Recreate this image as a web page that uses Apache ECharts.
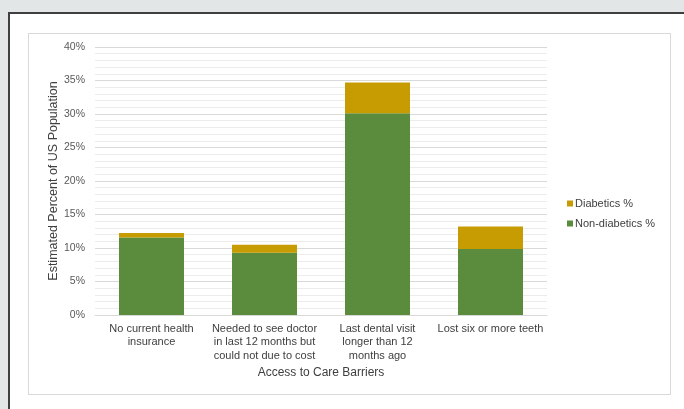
<!DOCTYPE html>
<html>
<head>
<meta charset="utf-8">
<script src="https://cdn.jsdelivr.net/npm/echarts@6/dist/echarts.min.js"></script>
<style>
  html, body { margin: 0; padding: 0; width: 684px; height: 409px; overflow: hidden; background: #e3e6e7; font-family: "Liberation Sans", Arial, sans-serif; }
  #panel { position: absolute; left: 8px; top: 12px; width: 700px; height: 420px; background: #ffffff; border-left: 2px solid #3f3f3f; border-top: 2px solid #3f3f3f; }
  #inner { position: absolute; left: 28px; top: 33px; width: 641px; height: 360px; border: 1px solid #d9d9d9; background: #ffffff; }
  #chart { position: absolute; left: 0; top: 0; width: 684px; height: 409px; }
</style>
</head>
<body>
<div id="panel"></div>
<div id="inner"></div>
<div id="chart"></div>
<script>
const categories = [
  "No current health\ninsurance",
  "Needed to see doctor\nin last 12 months but\ncould not due to cost",
  "Last dental visit\nlonger than 12\nmonths ago",
  "Lost six or more teeth"
];
const nonDiabeticsPct = [11.55, 9.3, 30.1, 9.85];
const diabeticsPct = [0.7, 1.2, 4.6, 3.35];
const seriesNames = ["Diabetics %", "Non-diabetics %"];

const chart = echarts.init(document.getElementById('chart'), null, { renderer: 'canvas' });
const font = '"Liberation Sans", Arial, sans-serif';
chart.setOption({
  backgroundColor: 'transparent',
  animation: false,
  textStyle: { fontFamily: font },
  grid: { left: 95, right: 137, top: 47, bottom: 94, containLabel: false },
  legend: {
    data: seriesNames,
    orient: 'vertical',
    left: 562,
    top: 193,
    itemWidth: 6,
    itemHeight: 6,
    itemGap: 9,
    icon: 'rect',
    textStyle: { fontSize: 11, color: '#404040', fontFamily: font, padding: [0, 0, 0, -3] }
  },
  xAxis: {
    type: 'category',
    data: categories,
    name: 'Access to Care Barriers',
    nameLocation: 'middle',
    nameGap: 52,
    nameMoveOverlap: false,
    nameTextStyle: { fontSize: 12, color: '#404040', fontFamily: font },
    axisLine: { show: true, lineStyle: { color: '#d9d9d9', width: 1 } },
    axisTick: { show: false },
    axisLabel: { interval: 0, fontSize: 11, color: '#404040', lineHeight: 13.5, margin: 7, fontFamily: font }
  },
  yAxis: {
    type: 'value',
    min: 0,
    max: 40,
    interval: 5,
    name: 'Estimated Percent of US Population',
    nameLocation: 'middle',
    nameGap: 35,
    nameMoveOverlap: false,
    nameTextStyle: { fontSize: 12.5, color: '#404040', fontFamily: font },
    axisLine: { show: false },
    axisTick: { show: false },
    axisLabel: { formatter: '{value}%', fontSize: 10.5, color: '#595959', margin: 10, fontFamily: font },
    splitLine: { show: true, lineStyle: { color: '#d9d9d9', width: 1 } },
    minorTick: { show: false, splitNumber: 5 },
    minorSplitLine: { show: true, lineStyle: { color: '#ececec', width: 1 } }
  },
  series: [
    {
      name: 'Non-diabetics %',
      type: 'bar',
      stack: 'total',
      data: nonDiabeticsPct,
      barWidth: 65,
      itemStyle: { color: '#5b8b3c' }
    },
    {
      name: 'Diabetics %',
      type: 'bar',
      stack: 'total',
      data: diabeticsPct,
      barWidth: 65,
      itemStyle: { color: '#c79b02' }
    }
  ]
});
</script>
</body>
</html>
